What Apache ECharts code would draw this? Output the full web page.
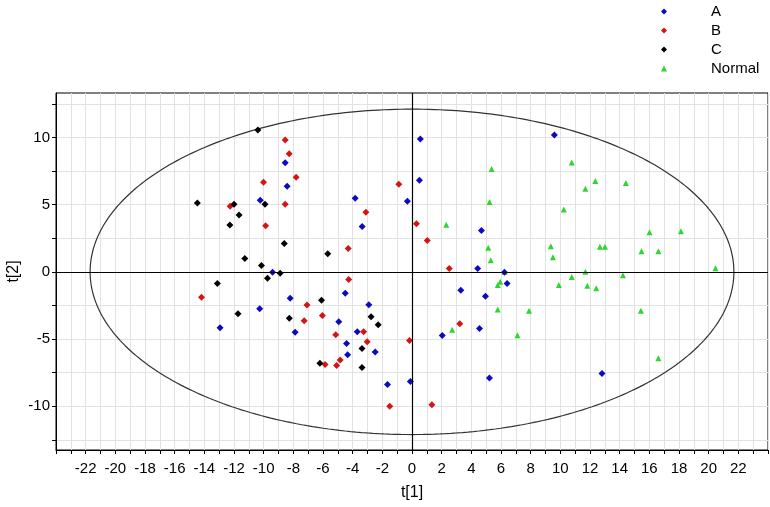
<!DOCTYPE html>
<html>
<head>
<meta charset="utf-8">
<script src="https://cdn.jsdelivr.net/npm/echarts@6/dist/echarts.min.js"></script>
<style>
  html, body { margin: 0; padding: 0; background: #fff; }
  #chart { width: 770px; height: 507px; }
</style>
</head>
<body>
<div id="chart"></div>
<script>
// score plot data, t[1] vs t[2]
var groupA = [
  [-10.23, 5.32], [-8.55, 8.12], [-8.42, 6.36], [-3.83, 5.47], [-3.36, 3.37],
  [-0.31, 5.25], [0.56, 9.88], [0.50, 6.81], [4.68, 3.07], [4.43, 0.25],
  [6.23, -0.03], [6.41, -0.87], [3.29, -1.37], [4.95, -1.81], [4.55, -4.21],
  [2.04, -4.73], [5.22, -7.90], [9.60, 10.18], [12.81, -7.56], [-9.40, -0.03],
  [-4.50, -1.59], [-8.21, -1.96], [-10.27, -2.75], [-4.94, -3.71], [-7.88, -4.49],
  [-4.41, -5.33], [-2.91, -2.45], [-3.69, -4.46], [-2.48, -5.97], [-4.34, -6.17],
  [-1.65, -8.37], [-0.11, -8.15], [-12.94, -4.16]
];
var groupB = [
  [-8.55, 9.81], [-8.28, 8.79], [-7.81, 7.03], [-10.01, 6.66], [-8.55, 5.02],
  [-9.87, 3.42], [-12.26, 4.87], [-14.19, -1.89], [-4.30, 1.73], [-3.11, 4.43],
  [-0.89, 6.51], [0.30, 3.57], [1.03, 2.33], [2.51, 0.25], [-4.27, -0.57],
  [-7.08, -2.46], [-6.04, -3.25], [-7.27, -3.63], [-5.14, -4.67], [-3.26, -4.46],
  [-3.02, -5.20], [-4.84, -6.55], [-5.86, -6.89], [-5.08, -6.96], [-0.17, -5.10],
  [-1.50, -10.0], [1.34, -9.88], [3.22, -3.86]
];
var groupC = [
  [-10.39, 10.55], [-14.47, 5.12], [-12.0, 5.02], [-11.66, 4.23], [-12.28, 3.49],
  [-9.91, 5.02], [-8.61, 2.10], [-11.27, 0.99], [-10.15, 0.48], [-8.89, -0.10],
  [-9.74, -0.48], [-13.12, -0.86], [-11.73, -3.12], [-5.68, 1.35], [-6.10, -2.11],
  [-8.27, -3.45], [-2.76, -3.34], [-2.28, -3.93], [-3.37, -5.70], [-6.21, -6.80],
  [-3.37, -7.11]
];
var groupNormal = [
  [2.31, 3.51], [5.37, 7.65], [5.23, 5.20], [5.14, 1.80], [5.31, 0.87],
  [6.25, 0.0], [5.95, -0.74], [5.78, -0.98], [5.78, -2.80], [2.71, -4.31],
  [7.89, -2.89], [7.11, -4.72], [10.77, 8.14], [12.36, 6.76], [11.69, 6.17],
  [14.42, 6.61], [10.23, 4.63], [16.01, 2.94], [18.13, 3.02], [9.36, 1.90],
  [9.50, 1.08], [12.67, 1.86], [13.01, 1.86], [15.47, 1.53], [16.61, 1.53],
  [20.46, 0.27], [11.69, 0.0], [10.77, -0.38], [14.22, -0.25], [9.90, -0.97],
  [11.82, -1.04], [12.42, -1.22], [15.43, -2.90], [16.61, -6.42]
];
var groupNames = ['A', 'B', 'C', 'Normal'];

// Hotelling T2 ellipse semi-axes
var ellipseA = 21.7;
var ellipseB = 12.1;

var yLabelValues = [-10, -5, 0, 5, 10];
var yTickValues = [-12.5, -10, -7.5, -5, -2.5, 0, 2.5, 5, 7.5, 10, 12.5];

var ellipse = [];
for (var i = 0; i <= 360; i++) {
  var t = i * Math.PI / 180;
  ellipse.push([ellipseA * Math.cos(t), ellipseB * Math.sin(t)]);
}

var font = '"Liberation Sans", Arial, sans-serif';
var chart = echarts.init(document.getElementById('chart'), null, { renderer: 'canvas' });

chart.setOption({
  animation: false,
  backgroundColor: '#fff',
  legend: {
    orient: 'vertical',
    left: 656,
    top: -3,
    itemWidth: 6,
    itemHeight: 6,
    itemGap: 0,
    data: groupNames,
    textStyle: { fontFamily: font, fontSize: 15, color: '#000', lineHeight: 19, padding: [0, 0, 0, 39] }
  },
  grid: {
    left: 56, right: 2, top: 93, bottom: 57,
    show: true, borderColor: '#000', borderWidth: 1,
    outerBoundsMode: 'none'
  },
  xAxis: {
    type: 'value',
    min: -24, max: 24, interval: 1,
    name: 't[1]', nameLocation: 'middle', nameGap: 35, nameMoveOverlap: false,
    nameTextStyle: { fontFamily: font, fontSize: 16, color: '#000' },
    axisLine: { onZero: false, lineStyle: { color: '#000' } },
    axisTick: { inside: false, length: 4, lineStyle: { color: '#000' } },
    axisLabel: {
      fontFamily: font, fontSize: 15, color: '#000', margin: 11,
      formatter: function (v) { return (Math.abs(v) <= 22 && v % 2 === 0) ? String(v) : ''; }
    },
    splitLine: { show: true, lineStyle: { color: '#e2e2e2', width: 1 } }
  },
  yAxis: {
    type: 'value',
    min: -13.25, max: 13.3,
    name: 't[2]', nameLocation: 'middle', nameGap: 34, nameRotate: 90, nameMoveOverlap: false,
    nameTextStyle: { fontFamily: font, fontSize: 16, color: '#000' },
    axisLine: { show: true, onZero: false, lineStyle: { color: '#000' } },
    axisTick: { show: true, length: 4, customValues: yTickValues, lineStyle: { color: '#000' } },
    axisLabel: { fontFamily: font, fontSize: 15, color: '#000', margin: 6, customValues: yLabelValues },
    splitLine: { show: true, lineStyle: { color: '#e2e2e2', width: 1 } }
  },
  series: [
    {
      type: 'line', data: ellipse, showSymbol: false, silent: true,
      lineStyle: { color: '#333', width: 1.2 },
      markLine: {
        silent: true, symbol: 'none', label: { show: false },
        lineStyle: { color: '#000', width: 1.2, type: 'solid' },
        data: [{ xAxis: 0 }, { yAxis: 0 }]
      },
      z: 1
    },
    { name: 'A', type: 'scatter', data: groupA, symbol: 'diamond', symbolSize: 7, itemStyle: { color: '#0a0ac0', opacity: 1 }, z: 3 },
    { name: 'B', type: 'scatter', data: groupB, symbol: 'diamond', symbolSize: 7, itemStyle: { color: '#d41515', opacity: 1 }, z: 3 },
    { name: 'C', type: 'scatter', data: groupC, symbol: 'diamond', symbolSize: 7, itemStyle: { color: '#000', opacity: 1 }, z: 3 },
    { name: 'Normal', type: 'scatter', data: groupNormal, symbol: 'triangle', symbolSize: 6, itemStyle: { color: '#2fd62f', opacity: 1 }, z: 2 }
  ]
});
</script>
</body>
</html>
